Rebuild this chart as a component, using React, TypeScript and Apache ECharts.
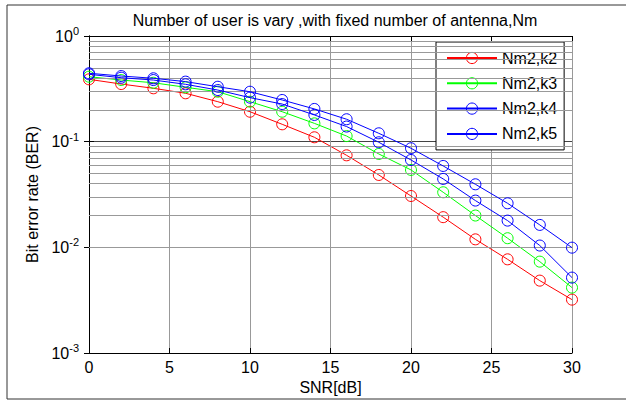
import React, { useEffect, useRef } from "react";
import * as echarts from "echarts";

const SNR = [0, 2, 4, 6, 8, 10, 12, 14, 16, 18, 20, 22, 24, 26, 28, 30];
const K2 = [0.389, 0.351, 0.32, 0.287, 0.239, 0.192, 0.146, 0.11, 0.0743, 0.0484, 0.0306, 0.0193, 0.0119, 0.0077, 0.00484, 0.0032];
const K3 = [0.412, 0.383, 0.361, 0.327, 0.297, 0.239, 0.192, 0.149, 0.113, 0.0765, 0.054, 0.0332, 0.02, 0.0122, 0.00732, 0.00416];
const K4 = [0.434, 0.403, 0.383, 0.349, 0.308, 0.261, 0.227, 0.179, 0.139, 0.0987, 0.0671, 0.0444, 0.0277, 0.0179, 0.0104, 0.00517];
const K5 = [0.444, 0.418, 0.398, 0.37, 0.331, 0.297, 0.248, 0.204, 0.163, 0.12, 0.0866, 0.0589, 0.0395, 0.0261, 0.0163, 0.00993];
const SERIES_NAMES = ["Nm2,k2", "Nm2,k3", "Nm2,k4", "Nm2,k5"];
const SERIES_COLORS = ["#ff0000", "#00ff00", "#0000ff", "#0000ff"];
const MINOR_GRID = [
  0.002, 0.003, 0.004, 0.005, 0.006, 0.007, 0.008, 0.009,
  0.02, 0.03, 0.04, 0.05, 0.06, 0.07, 0.08, 0.09,
  0.2, 0.3, 0.4, 0.5, 0.6, 0.7, 0.8, 0.9,
];

const FONT = "Liberation Sans, Arial, sans-serif";

export default function App() {
  const ref = useRef<HTMLDivElement>(null);
  useEffect(() => {
    if (!ref.current) return;
    const chart = echarts.init(ref.current, null, { renderer: "svg" });
    const values = [K2, K3, K4, K5];
    const lineSeries = values.map((vals, i) => ({
      name: SERIES_NAMES[i],
      type: "line",
      data: SNR.map((x, j) => [x, vals[j]]),
      symbol: "circle",
      symbolSize: 11,
      showSymbol: true,
      z: 3 + i,
      lineStyle: { color: SERIES_COLORS[i], width: 1 },
      itemStyle: { color: "rgba(0,0,0,0)", borderColor: SERIES_COLORS[i], borderWidth: 1 },
      emphasis: { disabled: true },
    }));
    const axisCommon = {
      axisLine: { show: true, lineStyle: { color: "#000", width: 1 } },
      axisTick: { show: true, inside: true, length: 5, lineStyle: { color: "#000" } },
    };
    chart.setOption({
      animation: false,
      backgroundColor: "#fff",
      textStyle: { fontFamily: FONT },
      title: {
        text: "Number of user is vary ,with fixed number of antenna,Nm",
        left: 330,
        top: 7,
        textAlign: "center",
        textStyle: { fontSize: 16, fontWeight: "normal", color: "#000", fontFamily: FONT },
      },
      graphic: [
        {
          type: "rect",
          shape: { x: 7, y: 5, width: 630, height: 394 },
          style: { fill: "none", stroke: "#333", lineWidth: 1 },
          silent: true,
          z: -1,
        },
      ],
      legend: {
        data: SERIES_NAMES,
        orient: "vertical",
        left: 436,
        top: 42,
        itemWidth: 50,
        itemHeight: 14,
        itemGap: 9.3,
        padding: [8, 7, 8, 10],
        backgroundColor: "#fff",
        borderColor: "#000",
        borderWidth: 1,
        itemStyle: { borderWidth: 1 },
        textStyle: { fontSize: 16, color: "#000", fontFamily: FONT },
      },
      grid: { left: 89, top: 36, width: 483, height: 317, show: false },
      xAxis: [
        {
          type: "value",
          min: 0,
          max: 30,
          interval: 5,
          name: "SNR[dB]",
          nameLocation: "middle",
          nameGap: 24,
          nameTextStyle: { fontSize: 16, color: "#000" },
          axisLabel: { fontSize: 16, color: "#000", margin: 6 },
          splitLine: { show: true, lineStyle: { color: "#999", width: 1 } },
          ...axisCommon,
        },
        {
          type: "value",
          position: "top",
          min: 0,
          max: 30,
          interval: 5,
          axisLabel: { show: false },
          splitLine: { show: false },
          ...axisCommon,
        },
      ],
      yAxis: [
        {
          type: "log",
          logBase: 10,
          min: 0.001,
          max: 1,
          name: "Bit error rate (BER)",
          nameLocation: "middle",
          nameGap: 44,
          nameTextStyle: { fontSize: 16, color: "#000" },
          axisLabel: {
            color: "#000",
            margin: 10,
            formatter: (v: number) => `{b|10}{s|${Math.round(Math.log10(v))}}`,
            rich: {
              b: { fontSize: 16, color: "#000", fontFamily: FONT },
              s: { fontSize: 11, color: "#000", fontFamily: FONT, padding: [0, 0, 10, 0] },
            },
          },
          splitLine: { show: true, lineStyle: { color: "#444", width: 1 } },
          ...axisCommon,
        },
        {
          type: "log",
          logBase: 10,
          min: 0.001,
          max: 1,
          position: "right",
          axisLabel: { show: false },
          splitLine: { show: false },
          ...axisCommon,
        },
      ],
      series: [
        {
          name: "minor-grid",
          type: "line",
          data: [],
          z: 1,
          silent: true,
          markLine: {
            silent: true,
            symbol: ["none", "none"],
            label: { show: false },
            lineStyle: { color: "#999", type: "solid", width: 1 },
            emphasis: { disabled: true },
            data: MINOR_GRID.map((v) => ({ yAxis: v })),
          },
        },
        ...lineSeries,
      ],
    });
    return () => chart.dispose();
  }, []);
  return (
    <div
      ref={ref}
      style={{ position: "fixed", left: 0, top: 0, width: 626, height: 405 }}
    />
  );
}
